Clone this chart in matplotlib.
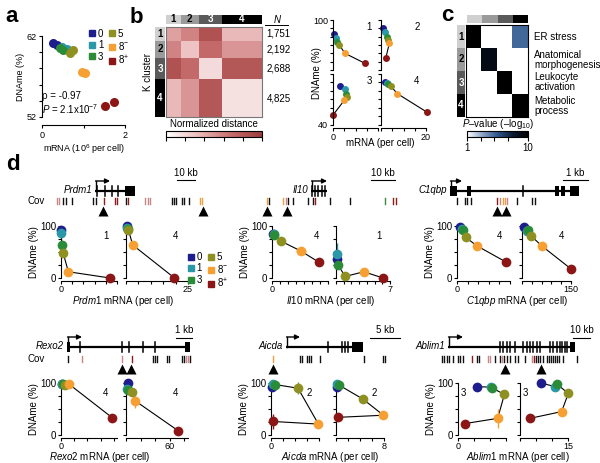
import numpy as np
import matplotlib
matplotlib.use("Agg")
import matplotlib.pyplot as plt
from matplotlib.colors import LinearSegmentedColormap, Normalize
from matplotlib.cm import ScalarMappable
from matplotlib.patches import Rectangle
from matplotlib.lines import Line2D
from matplotlib.transforms import blended_transform_factory

plt.rcParams["font.family"] = ["Liberation Sans", "DejaVu Sans"]
plt.rcParams["font.size"] = 6.5
plt.rcParams["mathtext.fontset"] = "custom"
plt.rcParams["mathtext.rm"] = "Liberation Sans"
plt.rcParams["mathtext.it"] = "Liberation Sans:italic"
plt.rcParams["axes.linewidth"] = 0.8
plt.rcParams["xtick.major.width"] = 0.8
plt.rcParams["ytick.major.width"] = 0.8
plt.rcParams["xtick.major.size"] = 2.5
plt.rcParams["ytick.major.size"] = 2.5
plt.rcParams["xtick.major.pad"] = 1.5
plt.rcParams["ytick.major.pad"] = 1.5

# ---------------- data ----------------
stages = ["0", "1", "3", "5", "8$^{-}$", "8$^{+}$"]
stage_colors = ["#1d1d8e", "#2a98a8", "#2a8c38", "#8e9121", "#f6a033", "#8c1616"]

# a: global DNAme vs mRNA
a_stage = [0, 0, 1, 1, 2, 2, 3, 3, 4, 4, 5, 5]
a_mrna = [0.26, 0.35, 0.47, 0.60, 0.44, 0.51, 0.67, 0.75, 0.96, 1.04, 1.52, 1.74]
a_dname = [61.1, 60.9, 60.7, 60.4, 60.5, 60.3, 59.9, 60.3, 57.6, 57.4, 53.3, 53.9]

# b: clusters
cluster_n = [1751, 2192, 2688, 4825]
cluster_grays = ["#d0d0d0", "#9a9a9a", "#5a5a5a", "#000000"]
cluster_txt = ["k", "k", "w", "w"]
dist_blocks = [[0.45, 0.58, 0.85, 0.35],
               [0.58, 0.30, 0.70, 0.50],
               [0.85, 0.70, 0.18, 0.82],
               [0.35, 0.50, 0.82, 0.15]]
b_x = [[0.4, 1.3, 1.9, 2.8, 5.3, 14.2],
       [1.0, 1.8, 2.5, 3.0, 3.7, 2.1],
       [3.1, 5.3, 5.8, 6.4, 5.0, 0.1],
       [1.8, 2.5, 3.2, 4.3, 7.2, 20.5]]
b_y = [[83, 78, 74, 70, 60, 48],
       [90, 85, 80, 76, 72, 54],
       [86, 82, 77, 72.5, 69, 52],
       [91, 89, 88, 86, 77, 55]]

# c: GO enrichment
go_terms = ["ER stress", "Anatomical\nmorphogenesis", "Leukocyte\nactivation", "Metabolic\nprocess"]
go_logp = [[10, 0, 0, 5],
           [0, 9, 0, 0],
           [0, 0, 10, 0],
           [0, 0, 0, 10]]

# d: genes
genes = ["Prdm1", "Il10", "C1qbp", "Rexo2", "Aicda", "Ablim1"]
gene_clusters = [["1", "4"], ["4", "1"], ["4", "4"], ["4", "4"], ["2", "2"], ["3", "3"]]
gene_xmax = [25, 7, 150, 85, 8, 15]
gene_xstep = [5, 1, 30, 20, 2, 5]
gene_xlab = [25, 7, 150, 60, 8, 15]
d_x = [[[0, 0, 0.45, 1.0, 3.3, 21.9], [0.4, 0.4, 0.8, 1.0, 2.7, 19.4]],
       [[0.1, 0.2, 0.25, 1.1, 3.6, 5.9], [0.1, 0.1, 0.26, 1.2, 3.6, 6.1]],
       [[8.5, 13, 16, 25, 56, 138], [7, 14, 19, 28, 60, 149]],
       [[1, 1.5, 2.3, 6, 12, 78], [2.3, 1, 3.2, 8.6, 12.3, 71.7]],
       [[0.1, 0.3, 0.7, 4.5, 7.9, 0.4], [0.1, 0.1, 0.5, 4.5, 7.9, 0.4]],
       [[5.8, 10.3, 10.5, 14.5, 12.4, 2.2], [6.6, 10.9, 11.5, 15.1, 13, 3.1]]]
d_y = [[[92, 87, 63.5, 47.5, 12, 0], [100, 96, 94, 92, 63.5, 0.6]],
       [[85, 84, 83, 71, 52, 30], [36.5, 46, 25, 3, 12, 0]],
       [[99, 94, 92, 78, 62, 31], [99, 91, 92, 81, 62, 18]],
       [[99, 99, 98, 96, 98, 33], [100, 88, 87, 83, 66, 8]],
       [[93, 99, 97, 90, 21, 26], [93, 98, 96, 69, 38, 34]],
       [[93, 92, 91, 78, 32, 22], [100, 93, 98, 80, 45, 32]]]
err_gene = [0, 1, 1, 1, 3, 3, 4, 4, 4, 4, 5, 5]
err_side = [0, 1, 1, 0, 1, 1, 0, 0, 0, 1, 0, 1]
err_stage = [0, 1, 0, 4, 2, 4, 3, 4, 5, 3, 4, 1]
err_dx = [0.3, 0, 0.3, 0.6, 0, 0, 0.4, 0.5, 0, 0.3, 0, 1.0]
err_dy = [6, 22, 8, 0, 8, 14, 12, 0, 14, 5, 18, 0]

# gene models (track position units)
gene_row = [0, 0, 0, 1, 1, 1]
gene_span = [(95, 135), (311, 327), (450, 579), (67, 190), (286, 363), (448, 575)]
gene_thin = [[97, 105, 112, 118], [312, 315, 318, 322, 325], [523],
             [80, 122, 129, 143, 155], [328, 342, 345, 348],
             [500, 503, 507, 510, 515, 523, 527, 530, 533, 537, 540, 550, 553, 557, 560, 562, 565, 567]]
gene_boxes = [[(125, 135)], [], [(450, 457), (467, 471), (555, 559), (561, 565), (570, 579)],
              [(67, 70), (185, 190)], [(352, 363)], [(570, 575)]]
gene_arrow = [110, 327, 462, 82, 300, 463]
scale_text = ["10 kb", "10 kb", "1 kb", "1 kb", "5 kb", "10 kb"]
scale_bar = [(177, 195), (371, 395), (563, 588), (176, 192), (370, 400), (573, 590)]
cov_pos = [[57, 59, 63, 66, 72, 93, 96, 104, 115, 117, 126, 128, 145, 148, 150, 172, 174, 176, 182, 184, 189, 200, 202],
           [267, 269, 283, 286, 288, 293, 308, 313, 315, 330, 350, 385, 393, 396],
           [457, 465, 467, 471, 497, 500, 503, 505, 507, 517, 532, 535],
           [68, 82, 122, 132, 153, 155, 157, 167, 169, 182, 184, 186, 188, 190],
           [273, 300, 302, 307, 309, 311, 320, 364, 383, 385],
           [442, 444, 447, 449, 453, 458, 460, 463, 472, 477, 479, 488, 490, 495, 500, 502, 504, 507, 510,
            515, 518, 525, 532, 534, 536, 538, 540, 543, 547, 549, 551, 553, 555, 557, 559, 563, 577]]
cov_tone = ["ppkkkkkrrrkrpppkkkkkkoo",
            "okopkkkkrkkgrr",
            "kkkkrpoopkkk",
            "kpprkkkkkkkppk",
            "okkkkkkkkk",
            "kkkkkkkk" + "r" + "kk" + "pp" + "kk" + "p" + "kkkkkk" + "p" + "r" + "kkkkkkkkkkkkk"]
tone_colors = {"k": "#111111", "r": "#8c1c1c", "p": "#c98585", "o": "#e9a040", "g": "#3a8a3a"}
tri_pos = [[103, 203], [267, 287], [497, 506], [122, 131], [273], [505, 541]]

# ---------------- layout helpers ----------------
W, H = 600, 463
fig = plt.figure(figsize=(W / 100, H / 100), dpi=100)


def px_axes(x0, y0, x1, y1):
    return fig.add_axes([x0 / W, 1 - y1 / H, (x1 - x0) / W, (y1 - y0) / H])


def clean(ax):
    ax.spines["top"].set_visible(False)
    ax.spines["right"].set_visible(False)
    ax.patch.set_visible(False)


def fig_text(x, y, s, **kw):
    fig.text(x / W, 1 - y / H, s, **kw)


for lab, x, y in [("a", 5, 22), ("b", 130, 23), ("c", 441, 21), ("d", 6, 170)]:
    fig_text(x, y, lab, fontsize=16, fontweight="bold", va="baseline")

# ---------------- panel a ----------------
ax = px_axes(42, 36, 125, 117)
clean(ax)
for s, x, y in zip(a_stage, a_mrna, a_dname):
    ax.plot(x, y, "o", ms=6.5, color=stage_colors[s], mec="none", clip_on=False)
ax.set_xlim(0, 2)
ax.set_ylim(52, 62)
ax.set_xticks([0, 1, 2])
ax.set_xticklabels(["0", "", "2"])
ax.set_yticks(range(52, 63, 2))
ax.set_yticklabels(["52", "", "", "", "", "62"])
ax.spines["bottom"].set_position(("outward", 6))
ax.set_xlabel("mRNA (10$^{6}$ per cell)", labelpad=2)
ax.set_ylabel("DNAme (%)", labelpad=1)
ax.text(0.0, 0.22, "ρ = -0.97", transform=ax.transAxes, fontsize=7)
ax.text(0.0, 0.04, "$P$ = 2.1x10$^{-7}$", transform=ax.transAxes, fontsize=7)
handles = [Line2D([], [], marker="s", ls="", color=c, ms=4.5) for c in stage_colors]
ax.legend(handles, stages, ncol=2, loc="upper right", bbox_to_anchor=(1.05, 1.09), frameon=False,
          handlelength=0.6, handletextpad=0.3, columnspacing=0.6, labelspacing=0.15,
          borderaxespad=0, borderpad=0, fontsize=7)

# ---------------- panel b heatmap ----------------
edges = np.concatenate([[0], np.cumsum(cluster_n)])
mids = (edges[:-1] + edges[1:]) / 2
dist_cmap = LinearSegmentedColormap.from_list("dist", ["#ffffff", "#ebbcbc", "#c86e6e", "#9c3b3b"])
axh = px_axes(166, 27, 262, 117)
axh.pcolormesh(edges, edges, np.array(dist_blocks), cmap=dist_cmap, vmin=0, vmax=1)
axh.set_xlim(0, edges[-1])
axh.set_ylim(edges[-1], 0)
axh.set_xticks([])
axh.set_yticks([])
for sp in axh.spines.values():
    sp.set_color("#777777")
tr = blended_transform_factory(axh.transAxes, axh.transData)
for m, n in zip(mids, cluster_n):
    axh.text(1.05, m, f"{n:,}", transform=tr, va="center", ha="left", fontsize=7)
axh.text(1.155, 1.075, "N", style="italic", transform=axh.transAxes, ha="center", va="center", fontsize=7)
axh.plot([1.03, 1.27], [1.025, 1.025], transform=axh.transAxes, color="k", lw=0.7, clip_on=False)

axt = px_axes(166, 15, 262, 24)
axt.barh(0, cluster_n, left=edges[:-1], height=1, color=cluster_grays)
axt.set_xlim(0, edges[-1])
axt.set_ylim(-0.5, 0.5)
axt.axis("off")
for k in range(4):
    axt.text(mids[k], 0, str(k + 1), color=cluster_txt[k], ha="center", va="center",
             fontsize=7, fontweight="bold")

axl = px_axes(155, 27, 165, 117)
axl.bar(0, cluster_n, bottom=edges[:-1], width=1, color=cluster_grays)
axl.set_ylim(edges[-1], 0)
axl.set_xlim(-0.5, 0.5)
axl.axis("off")
for k in range(4):
    axl.text(0, mids[k], str(k + 1), color=cluster_txt[k], ha="center", va="center",
             fontsize=7, fontweight="bold")
fig_text(148, 72, "K cluster", rotation=90, ha="center", va="center", fontsize=7)

axcb = px_axes(166, 131, 262, 137)
cb = fig.colorbar(ScalarMappable(norm=Normalize(0, 1), cmap=dist_cmap), cax=axcb, orientation="horizontal")
cb.set_ticks(np.linspace(0, 1, 6))
cb.set_ticklabels([])
cb.outline.set_linewidth(0.8)
axcb.tick_params(length=3)
fig_text(214, 124, "Normalized distance", ha="center", va="center", fontsize=7)

# ---------------- panel b small multiples ----------------
sm_rects = [(333, 20, 378, 70), (381, 20, 426, 70), (333, 74, 378, 125), (381, 74, 426, 125)]
for k, (x0, y0, x1, y1) in enumerate(sm_rects):
    ax = px_axes(x0, y0, x1, y1)
    clean(ax)
    ax.plot(b_x[k], b_y[k], color="k", lw=0.8, zorder=1)
    for s in range(6):
        ax.plot(b_x[k][s], b_y[k][s], "o", ms=5, color=stage_colors[s], mec="none",
                clip_on=False, zorder=2)
    ax.set_xlim(0, 20)
    ax.set_ylim(40, 100)
    ax.set_yticks(range(40, 101, 10))
    ylabs = [""] * 7
    if k == 0:
        ylabs[-1] = "100"
    if k == 2:
        ylabs[0] = "40"
    ax.set_yticklabels(ylabs)
    ax.tick_params(axis="y", length=2)
    if k < 2:
        ax.spines["bottom"].set_visible(False)
        ax.set_xticks([])
    else:
        ax.spines["bottom"].set_position(("outward", 2))
        ax.set_xticks(range(0, 21, 5))
        ax.set_xticklabels(["0", "", "", "", ""] if k == 2 else ["", "", "", "", "20"])
        ax.tick_params(axis="x", length=2)
    ax.text(0.8, 0.86, str(k + 1), transform=ax.transAxes, ha="center", va="center", fontsize=7)
fig_text(317, 73, "DNAme (%)", rotation=90, ha="center", va="center", fontsize=7)
fig_text(380, 143, "mRNA (per cell)", ha="center", va="center", fontsize=7)

# ---------------- panel c ----------------
p_cmap = LinearSegmentedColormap.from_list("p", ["#ffffff", "#8ea6c6", "#2c568c", "#0c1a30", "#000000"])
axc = px_axes(466, 25, 528, 117)
axc.imshow(np.array(go_logp, dtype=float), cmap=p_cmap, vmin=1, vmax=10, aspect="auto",
           extent=(0, 4, 4, 0), interpolation="nearest")
axc.set_xticks([])
axc.set_yticks([])
for sp in axc.spines.values():
    sp.set_linewidth(0.8)
for k, term in enumerate(go_terms):
    axc.text(1.1, (3.5 - k) / 4, term, transform=axc.transAxes, ha="left", va="center",
             fontsize=7, linespacing=1.0)

axct = px_axes(467, 15, 528, 23)
axct.barh(0, [1, 1, 1, 1], left=[0, 1, 2, 3], height=1, color=cluster_grays)
axct.set_xlim(0, 4)
axct.set_ylim(-0.5, 0.5)
axct.axis("off")
axcl = px_axes(457, 25, 465, 117)
axcl.bar(0, [1, 1, 1, 1], bottom=[0, 1, 2, 3], width=1, color=cluster_grays)
axcl.set_ylim(4, 0)
axcl.set_xlim(-0.5, 0.5)
axcl.axis("off")
for k in range(4):
    axcl.text(0, k + 0.5, str(k + 1), color=cluster_txt[k], ha="center", va="center",
              fontsize=7, fontweight="bold")

axpc = px_axes(467, 131, 528, 137)
cb2 = fig.colorbar(ScalarMappable(norm=Normalize(1, 10), cmap=p_cmap), cax=axpc, orientation="horizontal")
cb2.set_ticks([1, 3, 5, 7, 10])
cb2.set_ticklabels(["1", "", "", "", "10"])
cb2.outline.set_linewidth(0.8)
axpc.tick_params(length=3, labelsize=7, pad=1)
fig_text(498, 124, "$P$–value (–log$_{10}$)", ha="center", va="center", fontsize=7)

# ---------------- panel d: gene tracks ----------------
ov = px_axes(0, 0, W, H)
ov.set_xlim(0, W)
ov.set_ylim(H, 0)
ov.axis("off")
row_line = [191, 347]
row_cov = [(198, 204), (356, 362)]
row_tri = [211, 369]
row_scale_txt = [173, 330]
row_scale_line = [180, 338]
for r in range(2):
    ov.text(45, sum(row_cov[r]) / 2, "Cov", ha="right", va="center", fontsize=7)

for g in range(6):
    r = gene_row[g]
    y = row_line[r]
    g0, g1 = gene_span[g]
    ov.plot([g0, g1], [y, y], color="k", lw=1.6, solid_capstyle="butt")
    for t in gene_thin[g]:
        ov.plot([t, t], [y - 5, y + 5], color="k", lw=1.1)
    for b0, b1 in gene_boxes[g]:
        ov.add_patch(Rectangle((b0, y - 5), b1 - b0, 10, color="k", lw=0))
    ov.plot([g0 + 1, g0 + 1], [y, y - 10], color="k", lw=1.0)
    ov.annotate("", xy=(gene_arrow[g], y - 10), xytext=(g0 + 0.5, y - 10),
                arrowprops=dict(arrowstyle="-|>", lw=1.0, color="k", mutation_scale=7,
                                shrinkA=0, shrinkB=0))
    ov.text(g0 - 3, y - 1, genes[g], style="italic", ha="right", va="center", fontsize=7)
    s0, s1 = scale_bar[g]
    ov.plot([s0, s1], [row_scale_line[r]] * 2, color="k", lw=0.8)
    ov.text((s0 + s1) / 2, row_scale_txt[r], scale_text[g], ha="center", va="center", fontsize=7)
    c0, c1 = row_cov[r]
    for p, tone in zip(cov_pos[g], cov_tone[g]):
        ov.plot([p, p], [c0, c1], color=tone_colors[tone], lw=1.0)
    ov.plot(tri_pos[g], [row_tri[r]] * len(tri_pos[g]), "^", color="k", ms=6.5, mec="none")

# ---------------- panel d: scatter panels ----------------
d_panel_px = [[(61, 117), (126, 188)], [(272, 328), (336, 390)], [(457, 510), (522, 571)],
              [(61, 117), (126, 188)], [(271, 319), (336, 384)], [(458, 506), (520, 568)]]
d_row_px = [(226, 278), (383, 435)]
d_xlabel_x = [123, 331, 517, 100, 330, 518]
d_xlabel_y = [301, 457]
for g in range(6):
    y0, y1 = d_row_px[gene_row[g]]
    for side in range(2):
        x0, x1 = d_panel_px[g][side]
        ax = px_axes(x0, y0, x1, y1)
        clean(ax)
        xs, ys = d_x[g][side], d_y[g][side]
        ax.plot(xs, ys, color="k", lw=0.8, zorder=2, clip_on=False)
        for eg, es, est, edx, edy in zip(err_gene, err_side, err_stage, err_dx, err_dy):
            if eg == g and es == side:
                ax.errorbar(xs[est], ys[est], xerr=edx or None, yerr=edy or None,
                            color=stage_colors[est], lw=1.0, capsize=0, zorder=2.5, clip_on=False)
        for s in range(6):
            ax.plot(xs[s], ys[s], "o", ms=7, color=stage_colors[s], mec="none",
                    zorder=3, clip_on=False)
        xmax = gene_xmax[g]
        ax.set_xlim(0, xmax)
        ax.set_ylim(0, 100)
        ax.set_yticks([0, 25, 50, 75, 100])
        ax.set_yticklabels(["0", "", "", "", "100"] if side == 0 else [""] * 5, fontsize=7)
        xt = np.arange(0, xmax + 1e-9, gene_xstep[g])
        ax.set_xticks(xt)
        if side == 0:
            ax.set_xticklabels(["0"] + [""] * (len(xt) - 1), fontsize=7)
        else:
            ax.set_xticklabels([f"{v:g}" if v == gene_xlab[g] else "" for v in xt], fontsize=7)
        ax.spines["bottom"].set_position(("outward", 2))
        ax.tick_params(length=2)
        ax.tick_params(axis="x", pad=1)
        if side == 0:
            ax.set_ylabel("DNAme (%)", labelpad=1, fontsize=7)
        tx = 0.12 if g == 5 else 0.8
        ax.text(tx, 0.8, gene_clusters[g][side], transform=ax.transAxes, ha="center",
                va="center", fontsize=7)
    fig_text(d_xlabel_x[g], d_xlabel_y[gene_row[g]], "$\\mathit{" + genes[g] + "}$ mRNA (per cell)",
             ha="center", va="center", fontsize=7)

fig.legend(handles, stages, ncol=2, loc="upper left", bbox_to_anchor=(188 / W, 1 - 252 / H),
           frameon=False, handlelength=0.6, handletextpad=0.3, columnspacing=0.6,
           labelspacing=0.15, borderaxespad=0, borderpad=0, fontsize=7)

fig.savefig("out.png", dpi=100)
